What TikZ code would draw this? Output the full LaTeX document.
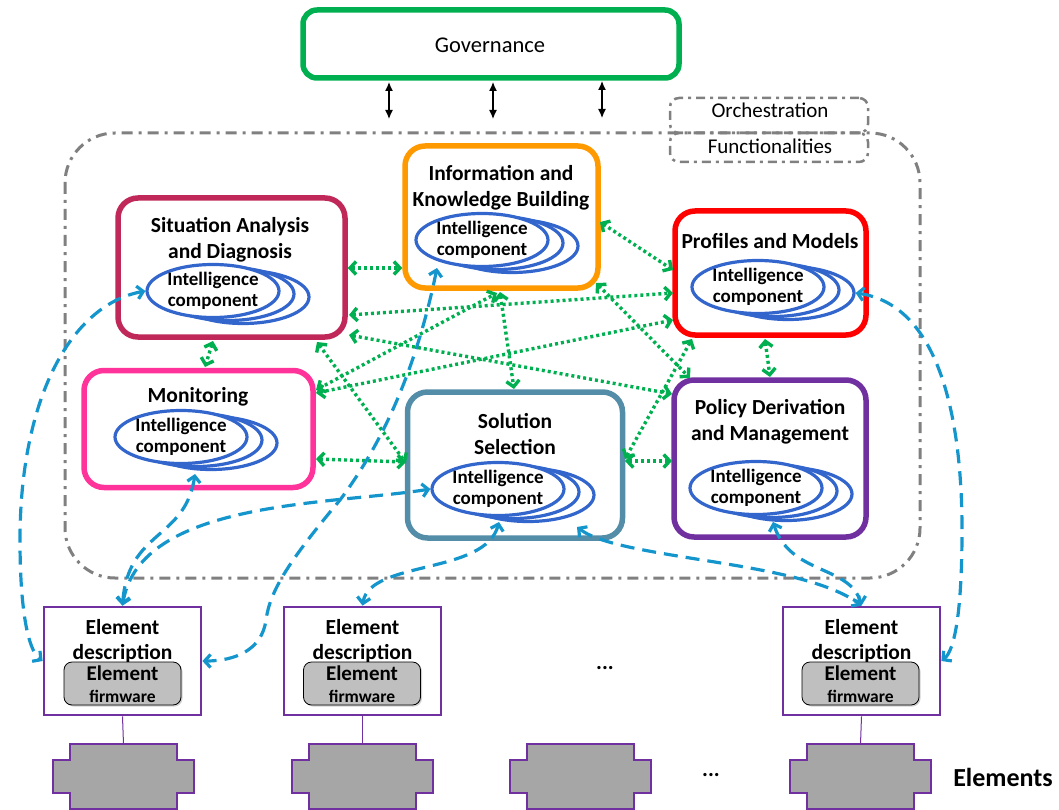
\documentclass[tikz,border=0pt]{standalone}
\usepackage{fontspec}
\setmainfont{Carlito}
\usetikzlibrary{arrows.meta,shapes.geometric,shadows}
\definecolor{govg}{RGB}{0,176,80}
\definecolor{sitc}{RGB}{192,40,90}
\definecolor{infoc}{RGB}{255,153,0}
\definecolor{profc}{RGB}{255,0,0}
\definecolor{monc}{RGB}{255,51,153}
\definecolor{solc}{RGB}{84,141,168}
\definecolor{polc}{RGB}{112,48,160}
\definecolor{iblue}{RGB}{51,102,204}
\definecolor{dblue}{RGB}{20,150,205}
\definecolor{dgreen}{RGB}{0,176,80}
\definecolor{orchg}{RGB}{128,128,128}
\definecolor{fwgray}{RGB}{191,191,191}
\definecolor{elgray}{RGB}{166,166,166}
\newcommand\icstack[3]{%
  \node[icell] (#3c) at (#1+30,#2+6) {};
  \node[icell] (#3b) at (#1+15,#2+3) {};
  \node[icell] (#3) at (#1,#2) {};
  \node[ictext] (#3t) at (#1,#2) {Intelligence\\component};
}
\newcommand\elshape[1]{%
  \draw[elshape, shift={(#1)}] (-53.5,0) -- (53.5,0) -- (53.5,16) -- (70.5,16) -- (70.5,49) -- (53.5,49) -- (53.5,65) -- (-53.5,65) -- (-53.5,49) -- (-70.5,49) -- (-70.5,16) -- (-53.5,16) -- cycle;
}
\begin{document}
\begin{tikzpicture}[x=1pt,y=-1pt,
  fb/.style={draw=#1, line width=5.5pt, rounded corners=20pt, fill=white, inner sep=0pt},
  ttl/.style={font=\fontsize{21.5}{26}\selectfont\bfseries, align=center, inner sep=0pt},
  icell/.style={ellipse, draw=iblue, line width=3.2pt, fill=white, minimum width=132pt, minimum height=53pt, inner sep=0pt},
  ictext/.style={font=\fontsize{19}{21.5}\selectfont\bfseries, align=center, inner sep=0pt},
  orchline/.style={draw=orchg, line width=3pt, dash pattern=on 11pt off 6pt on 3pt off 6pt},
  obox/.style={draw=orchg, line width=2.5pt, dash pattern=on 9pt off 5pt on 3pt off 5pt, rounded corners=9pt, minimum width=198pt, inner sep=0pt},
  gar/.style={draw=dgreen, line width=3.4pt, dash pattern=on 3pt off 3pt, {Straight Barb[length=6pt,width=13pt]}-{Straight Barb[length=6pt,width=13pt]}},
  bar/.style={draw=dblue, line width=3.2pt, dash pattern=on 14pt off 8pt, {Straight Barb[length=6pt,width=13pt]}-{Straight Barb[length=6pt,width=13pt]}},
  kar/.style={draw=black, line width=1.3pt, {Latex[length=9pt,width=8pt]}-{Latex[length=9pt,width=8pt]}},
  edesc/.style={draw=polc, line width=2.8pt, fill=white, minimum width=157pt, minimum height=108pt, inner sep=0pt},
  edtext/.style={font=\fontsize{21.5}{25}\selectfont\bfseries, align=center, inner sep=0pt},
  fw/.style={draw=black, line width=0.8pt, fill=fwgray, rounded corners=8pt, minimum width=117pt, minimum height=43pt, inner sep=0pt, drop shadow={opacity=0.35, shadow xshift=1.5pt, shadow yshift=-1.5pt}},
  elshape/.style={draw=polc, line width=1.2pt, fill=elgray},
  elink/.style={draw=polc, line width=1pt}
]
\useasboundingbox (0,0) rectangle (1059,810);

% orchestration region
\draw[orchline, rounded corners=50pt] (65,133) rectangle (920,578);
\node[obox, minimum height=35pt] (orch) at (769,115.5) {};
\node[obox, minimum height=29pt] (func) at (769,147.5) {};
\node[font=\fontsize{21}{24}\selectfont, inner sep=0pt] (orcht) at (770,110) {Orchestration};
\node[font=\fontsize{21}{24}\selectfont, inner sep=0pt] (funct) at (770,146) {Functionalities};

% governance
\node[draw=govg, line width=5.5pt, rounded corners=14pt, fill=white, minimum width=376pt, minimum height=68pt, inner sep=0pt] (gov) at (491,44) {};
\node[font=\fontsize{22.5}{26}\selectfont, inner sep=0pt] (govt) at (490,45) {Governance};
\coordinate (g1a) at (389,82); \coordinate (g1b) at (389,119);
\coordinate (g2a) at (493,82); \coordinate (g2b) at (493,119);
\coordinate (g3a) at (602,81); \coordinate (g3b) at (602,118);
\draw[kar] (g1a) -- (g1b);
\draw[kar] (g2a) -- (g2b);
\draw[kar] (g3a) -- (g3b);

% functional boxes
\node[fb=sitc, minimum width=227pt, minimum height=139pt] (sit) at (231.5,267.5) {};
\node[fb=infoc, minimum width=193pt, minimum height=142pt] (info) at (501.5,217) {};
\node[fb=profc, minimum width=191pt, minimum height=124pt] (prof) at (770.5,273) {};
\node[fb=monc, minimum width=229pt, minimum height=117pt] (mon) at (198.5,429) {};
\node[fb=solc, minimum width=215pt, minimum height=146pt] (sol) at (515,465) {};
\node[fb=polc, minimum width=192pt, minimum height=157pt] (pol) at (770,458.5) {};

\node[ttl] (sitt) at (230,240) {Situation Analysis\\and Diagnosis};
\node[ttl] (infot) at (501,188) {Information and\\Knowledge Building};
\node[ttl] (proft) at (770,241) {Profiles and Models};
\node[ttl] (mont) at (198,397) {Monitoring};
\node[ttl] (solt) at (515,434) {Solution\\Selection};
\node[ttl] (polt) at (770,422) {Policy Derivation\\and Management};

% intelligence components
\icstack{213}{291}{sitI}
\icstack{482}{240}{infoI}
\icstack{758}{287}{profI}
\icstack{181}{437}{monI}
\icstack{498}{489}{solI}
\icstack{756}{488}{polI}

% element descriptions
\node[edesc] (e1) at (122.5,661) {};
\node[edesc] (e2) at (362.5,661) {};
\node[edesc] (e3) at (861.5,661) {};
\node[edtext] (e1t) at (122.5,641) {Element\\description};
\node[edtext] (e2t) at (362.5,641) {Element\\description};
\node[edtext] (e3t) at (861.5,641) {Element\\description};
\node[fw] (f1) at (122.5,683.5) {};
\node[fw] (f2) at (362,683.5) {};
\node[fw] (f3) at (860.5,683.5) {};
\foreach \n/\x in {f1/122.5,f2/362,f3/860.5}{
  \node[font=\fontsize{21}{24}\selectfont\bfseries, inner sep=0pt] (\n a) at (\x,673) {Element};
  \node[font=\fontsize{17.5}{20}\selectfont\bfseries, inner sep=0pt] (\n b) at (\x,696) {firmware};
}

% elements
\coordinate (s1) at (123.5,744);
\coordinate (s2) at (362.5,744);
\coordinate (s3) at (580.5,744);
\coordinate (s4) at (860.5,744);
\draw[elink] (e1.south) -- (s1);
\draw[elink] (e2.south) -- (s2);
\draw[elink] (e3.south) -- (s4);
\elshape{s1}
\elshape{s2}
\elshape{s3}
\elshape{s4}
\node[font=\fontsize{22}{24}\selectfont\bfseries, inner sep=0pt] (dots1) at (605,668) {...};
\node[font=\fontsize{22}{24}\selectfont\bfseries, inner sep=0pt] (dots2) at (711,775) {...};
\node[font=\fontsize{26}{30}\selectfont\bfseries, inner sep=0pt] (elems) at (1003,777) {Elements};

% green dotted links
\draw[gar] (sit.east |- 0,268) -- (info.west |- 0,268);
\draw[gar] (213,341) -- (205,367);
\draw[gar] (600,222) -- (673,270);
\draw[gar] (500,292) -- (514,389);
\draw[gar] (596,283) -- (690,378);
\draw[gar] (349,315) -- (673,293);
\draw[gar] (349,335) -- (672,394);
\draw[gar] (317,342) -- (406,463);
\draw[gar] (316,390) -- (497,293);
\draw[gar] (316,393) -- (673,320);
\draw[gar] (316,459) -- (406,462);
\draw[gar] (625,461) -- (672,461);
\draw[gar] (625,459) -- (692,339);
\draw[gar] (765,339) -- (770,377);

% blue dashed links
\draw[bar] (sitI.west) .. controls (70,305) and (20,400) .. (20,540) .. controls (20,610) and (28,650) .. (e1.west);
\draw[bar] (195,474) .. controls (185,540) and (128,530) .. (e1.north);
\draw[bar] (solI.west) .. controls (330,505) and (140,500) .. (e1.north);
\draw[bar] (437,268) .. controls (412,390) and (370,460) .. (340,500) .. controls (290,560) and (270,590) .. (266,620) .. controls (262,650) and (235,661) .. (e1.east);
\draw[bar] (499,522) .. controls (485,575) and (370,560) .. (e2.north);
\draw[bar] (577,527) .. controls (620,560) and (800,560) .. (e3.north);
\draw[bar] (773,522) .. controls (790,575) and (850,565) .. (e3.north);
\draw[bar] (profIc.east) .. controls (940,305) and (962,420) .. (962,530) .. controls (962,610) and (955,650) .. (e3.east);
\end{tikzpicture}
\end{document}
